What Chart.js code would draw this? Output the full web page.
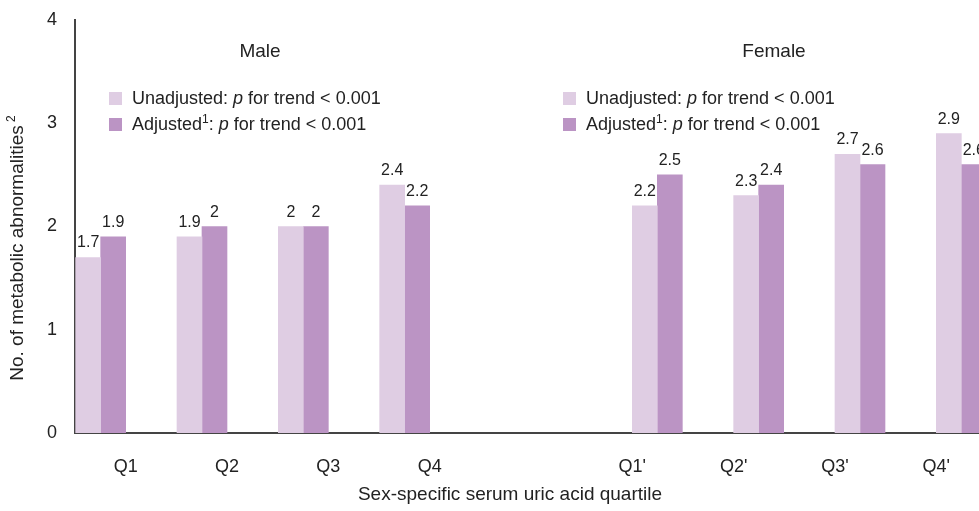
<!DOCTYPE html>
<html>
<head>
<meta charset="utf-8">
<script src="https://cdn.jsdelivr.net/npm/chart.js@4"></script>
<style>
  html, body { margin: 0; padding: 0; overflow: hidden; background: #fff; }
  #wrap { position: absolute; left: 0; top: 0; width: 990px; height: 511px; }
</style>
</head>
<body>
<div id="wrap"><canvas id="chart"></canvas></div>
<script>
// Chart data
const categories = ['Q1', 'Q2', 'Q3', 'Q4', '', "Q1'", "Q2'", "Q3'", "Q4'"];
const maleUnadjusted = [1.7, 1.9, 2, 2.4, null, null, null, null, null];
const maleAdjusted = [1.9, 2, 2, 2.2, null, null, null, null, null];
const femaleUnadjusted = [null, null, null, null, null, 2.2, 2.3, 2.7, 2.9];
const femaleAdjusted = [null, null, null, null, null, 2.5, 2.4, 2.6, 2.6];
const yTicks = [0, 1, 2, 3, 4];

const lightColor = '#dfcde3';
const darkColor = '#bb94c4';
const FONT = '"Liberation Sans", Arial, sans-serif';

// value labels over the bars
const valueLabels = {
  id: 'valueLabels',
  afterDatasetsDraw(chart) {
    const ctx = chart.ctx;
    ctx.save();
    ctx.font = '16px ' + FONT;
    ctx.fillStyle = '#222';
    ctx.textAlign = 'center';
    ctx.textBaseline = 'alphabetic';
    chart.data.datasets.forEach((ds, i) => {
      const meta = chart.getDatasetMeta(i);
      meta.data.forEach((bar, j) => {
        const v = ds.data[j];
        if (v === null) return;
        ctx.fillText(String(v), bar.x, bar.y - 10);
      });
    });
    ctx.restore();
  }
};

// draws a row of text pieces [text, font, dy]
function drawPieces(ctx, x, y, pieces) {
  pieces.forEach(p => {
    ctx.font = p[1];
    ctx.fillText(p[0], x, y + (p[2] || 0));
    x += ctx.measureText(p[0]).width;
  });
}

// group titles, legends and axis titles
const annotations = {
  id: 'annotations',
  afterDraw(chart) {
    const ctx = chart.ctx;
    const normal = '18px ' + FONT;
    const italic = 'italic 18px ' + FONT;
    const sup = '12px ' + FONT;
    const title = '19px ' + FONT;
    ctx.save();
    ctx.fillStyle = '#222';
    ctx.textBaseline = 'middle';

    ctx.textAlign = 'center';
    ctx.font = title;
    ctx.fillText('Male', 260, 52);
    ctx.fillText('Female', 774, 52);

    ctx.textAlign = 'left';
    [109, 563].forEach(x0 => {
      ctx.fillStyle = lightColor;
      ctx.fillRect(x0, 92, 13, 13);
      ctx.fillStyle = darkColor;
      ctx.fillRect(x0, 118, 13, 13);
      ctx.fillStyle = '#222';
      drawPieces(ctx, x0 + 23, 99, [['Unadjusted: ', normal], ['p', italic], [' for trend < 0.001', normal]]);
      drawPieces(ctx, x0 + 23, 125, [['Adjusted', normal], ['1', sup, -5], [': ', normal], ['p', italic], [' for trend < 0.001', normal]]);
    });

    // x axis title
    ctx.textAlign = 'center';
    ctx.font = title;
    ctx.fillText('Sex-specific serum uric acid quartile', 510, 495);

    // y axis title
    ctx.translate(18, 248);
    ctx.rotate(-Math.PI / 2);
    ctx.textAlign = 'left';
    const main = 'No. of metabolic abnormalities';
    ctx.font = title;
    const w = ctx.measureText(main).width;
    ctx.font = sup;
    const w2 = ctx.measureText(' 2').width;
    drawPieces(ctx, -(w + w2) / 2, 0, [[main, title], [' 2', sup, -6]]);
    ctx.restore();
  }
};

function makeSet(label, data, color) {
  return {
    label: label,
    data: data,
    backgroundColor: color,
    borderWidth: 0,
    barThickness: 25
  };
}

new Chart(document.getElementById('chart'), {
  type: 'bar',
  data: {
    labels: categories,
    datasets: [
      makeSet('Male unadjusted', maleUnadjusted, lightColor),
      makeSet('Male adjusted', maleAdjusted, darkColor),
      makeSet('Female unadjusted', femaleUnadjusted, lightColor),
      makeSet('Female adjusted', femaleAdjusted, darkColor)
    ]
  },
  options: {
    responsive: true,
    maintainAspectRatio: false,
    animation: false,
    layout: { padding: { top: 20, right: 3, left: 0, bottom: 0 } },
    plugins: {
      legend: { display: false },
      tooltip: { enabled: false }
    },
    scales: {
      x: {
        grid: { display: false, drawTicks: false },
        border: { display: true, color: '#444', width: 2 },
        ticks: { color: '#222', font: { family: FONT, size: 18 }, padding: 23, maxRotation: 0, autoSkip: false },
        afterFit(scale) { scale.height = 78; }
      },
      y: {
        min: 0,
        max: 4,
        afterBuildTicks(scale) { scale.ticks = yTicks.map(v => ({ value: v })); },
        grid: { display: false, drawTicks: false },
        border: { display: true, color: '#444', width: 2 },
        ticks: { color: '#222', font: { family: FONT, size: 18 }, padding: 18 },
        // keep the plot top fixed at the layout padding
        afterFit(scale) { scale.width = 75; scale.paddingTop = 0; scale.paddingBottom = 0; }
      }
    }
  },
  plugins: [valueLabels, annotations]
});
</script>
</body>
</html>
